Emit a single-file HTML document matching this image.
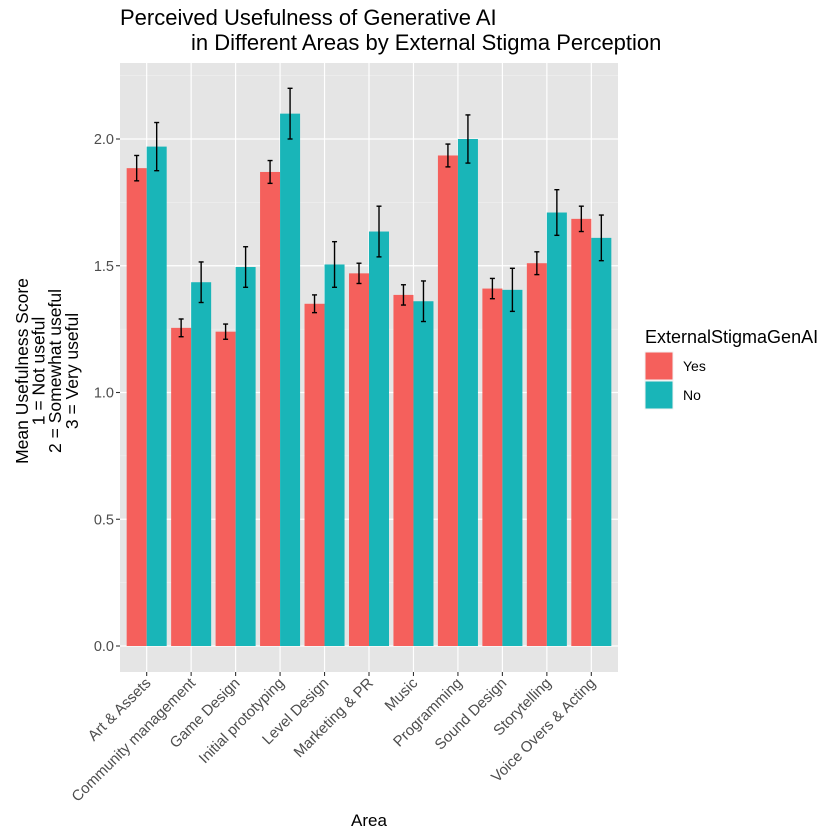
<!DOCTYPE html>
<html><head><meta charset="utf-8"><style>body{margin:0;background:#fff}svg{display:block;font-family:"Liberation Sans",sans-serif}</style></head>
<body>
<svg id="chart" width="840" height="840" xmlns="http://www.w3.org/2000/svg"></svg>
<script>
const categories=["Art & Assets","Community management","Game Design","Initial prototyping","Level Design","Marketing & PR","Music","Programming","Sound Design","Storytelling","Voice Overs & Acting"];
const yesValues=[1.885,1.255,1.24,1.87,1.35,1.47,1.385,1.935,1.41,1.51,1.685];
const yesErr=[0.05,0.035,0.03,0.045,0.035,0.04,0.04,0.045,0.04,0.045,0.05];
const noValues=[1.97,1.435,1.495,2.10,1.505,1.635,1.36,2.00,1.405,1.71,1.61];
const noErr=[0.095,0.08,0.08,0.1,0.09,0.1,0.08,0.095,0.085,0.09,0.09];
const yTicks=[0,0.5,1,1.5,2];
const yTickLabels=["0.0","0.5","1.0","1.5","2.0"];
const NS="http://www.w3.org/2000/svg";
const svg=document.getElementById('chart');
const L=120,R=618,T=63,B=672;
const y=v=>646-v*253.5;
const unit=(R-L)/(categories.length-1+1.2);
const x=i=>L+(0.6+i)*unit;
function mk(t,a,p){const e=document.createElementNS(NS,t);for(const k in a)e.setAttribute(k,a[k]);(p||svg).appendChild(e);return e;}
const panel=mk('rect',{x:L,y:T,width:R-L,height:B-T,fill:'#e5e5e5'});


const grid=mk('g',{});


for(let i=0;i<yTicks.length-1;i++){const v=(yTicks[i]+yTicks[i+1])/2;mk('line',{x1:L,x2:R,y1:y(v),y2:y(v),stroke:'#f2f2f2','stroke-width':0.6},grid);}
{const v=2.25;mk('line',{x1:L,x2:R,y1:y(v),y2:y(v),stroke:'#f2f2f2','stroke-width':0.6},grid);}
yTicks.forEach(v=>mk('line',{x1:L,x2:R,y1:y(v),y2:y(v),stroke:'#fff','stroke-width':1.2},grid));
categories.forEach((c,i)=>mk('line',{x1:x(i),x2:x(i),y1:T,y2:B,stroke:'#fff','stroke-width':1.2},grid));
const bw=unit*0.45;
function bars(vals,errs,off,color,name){
 vals.forEach((v,i)=>{
  const bx=x(i)+off*bw;
  const r=mk('rect',{x:bx,y:y(v),width:bw,height:y(0)-y(v),fill:color});
  
  
  const cx=bx+bw/2,e=errs[i],g=mk('g',{stroke:'#000','stroke-width':1.4});
  
  
  mk('line',{x1:cx,x2:cx,y1:y(v+e),y2:y(v-e)},g);
  mk('line',{x1:cx-2.5,x2:cx+2.5,y1:y(v+e),y2:y(v+e)},g);
  mk('line',{x1:cx-2.5,x2:cx+2.5,y1:y(v-e),y2:y(v-e)},g);
 });
}
bars(yesValues,yesErr,-1,'#f5605c','yes');
bars(noValues,noErr,0,'#19b5b8','no');
yTicks.forEach((v,i)=>{
 mk('line',{x1:L-4,x2:L,y1:y(v),y2:y(v),stroke:'#333','stroke-width':1.1});
 const t=mk('text',{x:L-6,y:y(v)+5,'text-anchor':'end','font-size':14.5,fill:'#4d4d4d'});t.textContent=yTickLabels[i];
 
 
});
categories.forEach((c,i)=>{
 mk('line',{x1:x(i),x2:x(i),y1:B,y2:B+4,stroke:'#333','stroke-width':1.1});
 const t=mk('text',{transform:`translate(${x(i)+5},${B+12}) rotate(-45)`,'text-anchor':'end','font-size':15,fill:'#4d4d4d'});t.textContent=c;
 
 
});
</script>
<svg style="position:absolute;left:0;top:0" width="840" height="840" xmlns="http://www.w3.org/2000/svg">
 <text x="120" y="25" font-size="22" font-family="Liberation Sans, sans-serif">Perceived Usefulness of Generative AI</text>
 <text x="191" y="50" font-size="22" font-family="Liberation Sans, sans-serif">in Different Areas by External Stigma Perception</text>
 <text x="369" y="826" text-anchor="middle" font-size="17" font-family="Liberation Sans, sans-serif">Area</text>
 <g transform="translate(0,371) rotate(-90)" font-size="17.5" font-family="Liberation Sans, sans-serif" text-anchor="middle">
  <text x="0" y="28">Mean Usefulness Score</text>
  <text x="0" y="44.5">1 = Not useful</text>
  <text x="0" y="61">2 = Somewhat useful</text>
  <text x="0" y="78">3 = Very useful</text>
 </g>
 <g font-family="Liberation Sans, sans-serif">
  <text x="645" y="343" font-size="18">ExternalStigmaGenAI</text>
  <rect x="645" y="352" width="28" height="28" fill="#f5605c" stroke="#f2f2f2"/>
  <rect x="645" y="381" width="28" height="28" fill="#19b5b8" stroke="#f2f2f2"/>
  <text x="683" y="371" font-size="14">Yes</text>
  <text x="683" y="400" font-size="14">No</text>
 </g>
</svg>
</body></html>
